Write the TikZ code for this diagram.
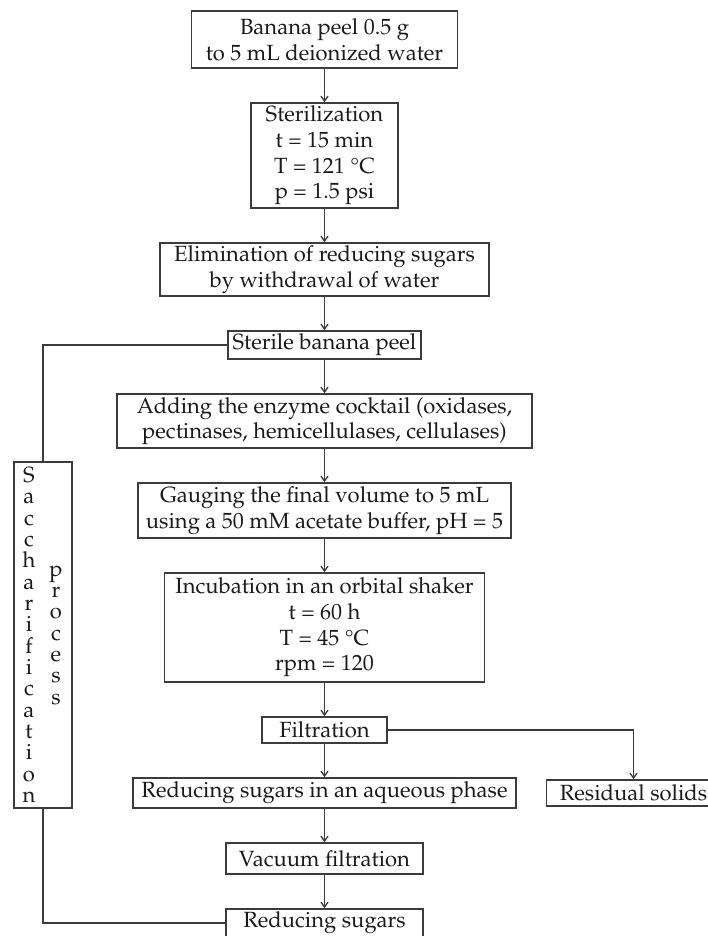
\documentclass[tikz,border=0pt]{standalone}
\usepackage[T1]{fontenc}
\usepackage{mathpazo}
\usepackage{textcomp}
\usepackage{tikz}
\usetikzlibrary{arrows.meta,positioning}
\definecolor{flowline}{HTML}{3C3C3C}
\definecolor{flowink}{HTML}{1A1A1A}

\begin{document}
\begin{tikzpicture}[
  x=0.5pt,y=-0.5pt,
  node distance=16.75pt,
  every node/.style={font=\fontsize{11}{12.85}\selectfont,align=center,text=flowink},
  box/.style={draw=flowline,line width=0.75pt,inner xsep=2pt,inner ysep=1pt,fill=white},
  letters/.style={font=\fontsize{11}{10.67}\selectfont,inner sep=0pt},
  arrow/.style={-{Straight Barb[length=2.5pt,width=3.5pt]},line width=0.65pt,color=flowline},
  link/.style={line width=0.65pt,color=flowline}
]
\useasboundingbox (0,0) rectangle (707,936);
\node[box,minimum width=133pt,minimum height=28.5pt] (peel) at (324.5,39.5) {Banana peel 0.5 g\\to 5 mL deionized water};
\node[box,minimum width=73.5pt,minimum height=52.5pt,below=of peel] (steril) {Sterilization\\t = 15 min\\T = 121 \textdegree C\\p = 1.5 psi};
\node[box,minimum width=164.5pt,minimum height=26.5pt,below=of steril] (elim) {Elimination of reducing sugars\\by withdrawal of water};
\node[box,minimum width=96.5pt,minimum height=14pt,below=of elim] (sterile) {Sterile banana peel};
\node[box,minimum width=207.5pt,minimum height=27pt,below=of sterile] (enzyme) {Adding the enzyme cocktail (oxidases,\\pectinases, hemicellulases, cellulases)};
\node[box,minimum width=186.5pt,minimum height=27.5pt,below=of enzyme] (gauge) {Gauging the final volume to 5 mL\\using a 50 mM acetate buffer, pH = 5};
\node[box,minimum width=160pt,minimum height=54.5pt,below=of gauge] (incub) {Incubation in an orbital shaker\\t = 60 h\\T = 45 \textdegree C\\rpm = 120};
\node[box,minimum width=62.5pt,minimum height=13pt,below=of incub] (filtr) {Filtration};
\node[box,minimum width=191.5pt,minimum height=15pt,below=of filtr] (aqueous) {Reducing sugars in an aqueous phase};
\node[box,minimum width=87pt,minimum height=13pt,right=14.5pt of aqueous] (resid) {Residual solids};
\node[box,minimum width=98.5pt,minimum height=15.5pt,below=of aqueous] (vacuum) {Vacuum filtration};
\node[box,minimum width=98.5pt,minimum height=14pt,below=of vacuum] (final) {Reducing sugars};
% vertical label box
\node[box,minimum width=29pt,minimum height=173pt] (sacch) at (43,635) {};
\node[letters] (sacchword) at ([xshift=-7pt]sacch.center) {S\\a\\c\\c\\h\\a\\r\\i\\f\\i\\c\\a\\t\\i\\o\\n};
\node[letters] (procword) at ([xshift=6.5pt]sacch.center) {p\\r\\o\\c\\e\\s\\s};
\draw[arrow] (peel) -- (steril);
\draw[arrow] (steril) -- (elim);
\draw[arrow] (elim) -- (sterile);
\draw[arrow] (sterile) -- (enzyme);
\draw[arrow] (enzyme) -- (gauge);
\draw[arrow] (gauge) -- (incub);
\draw[arrow] (incub) -- (filtr);
\draw[arrow] (filtr) -- (aqueous);
\draw[arrow] (filtr.east) -| (resid.north);
\draw[arrow] (aqueous) -- (vacuum);
\draw[arrow] (vacuum) -- (final);
\draw[link] (sterile.west) -| (sacch.north);
\draw[link] (sacch.south) |- (final.west);
\end{tikzpicture}
\end{document}
